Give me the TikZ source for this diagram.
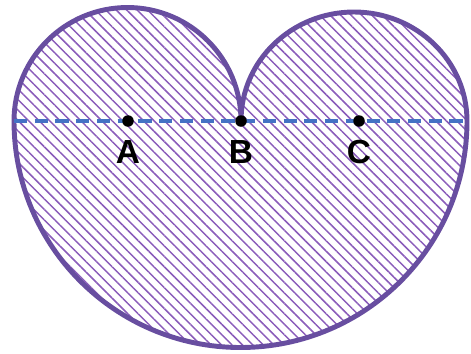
\documentclass[tikz,border=0pt]{standalone}
\usepackage{fontspec}
\setmainfont{Liberation Sans}
\usetikzlibrary{patterns.meta, positioning}
\definecolor{heartpurple}{RGB}{104,78,160}
\definecolor{hatchpurple}{RGB}{138,92,186}
\definecolor{axisblue}{RGB}{68,114,196}

\begin{document}
\begin{tikzpicture}[
    dot/.style={circle, fill=black, minimum size=0.23cm, inner sep=0pt},
    lbl/.style={inner sep=0pt, font=\fontsize{19}{19}\selectfont\bfseries},
    outline/.style={draw=heartpurple, line width=2.8pt, line join=round},
    axis/.style={draw=axisblue, line width=2.5pt, dash pattern=on 7.5pt off 4.3pt}]
    \useasboundingbox (0,0) rectangle (9.42,7.06);

    % Heart
    \path[outline, pattern={Lines[angle=-45, distance=4.2pt, line width=0.85pt]}, pattern color=hatchpurple]
        (4.82,4.64) arc[start angle=0, end angle=180, radius=2.27]
        arc[start angle=180, end angle=360, radius=4.53]
        arc[start angle=0, end angle=180, x radius=2.26, y radius=2.18] -- cycle;

    % Dashed line
    \coordinate (L) at (0.28,4.64);
    \coordinate (R) at (9.38,4.64);
    \draw[axis] (L) -- (R);

    % Points
    \node[dot] (A) at (2.56,4.64) {};
    \node[dot] (B) at (4.82,4.64) {};
    \node[dot] (C) at (7.18,4.64) {};

    % Labels
    \node[lbl, below=0.26cm of A] (labA) {A};
    \node[lbl, below=0.26cm of B] (labB) {B};
    \node[lbl, below=0.26cm of C] (labC) {C};
\end{tikzpicture}
\end{document}
